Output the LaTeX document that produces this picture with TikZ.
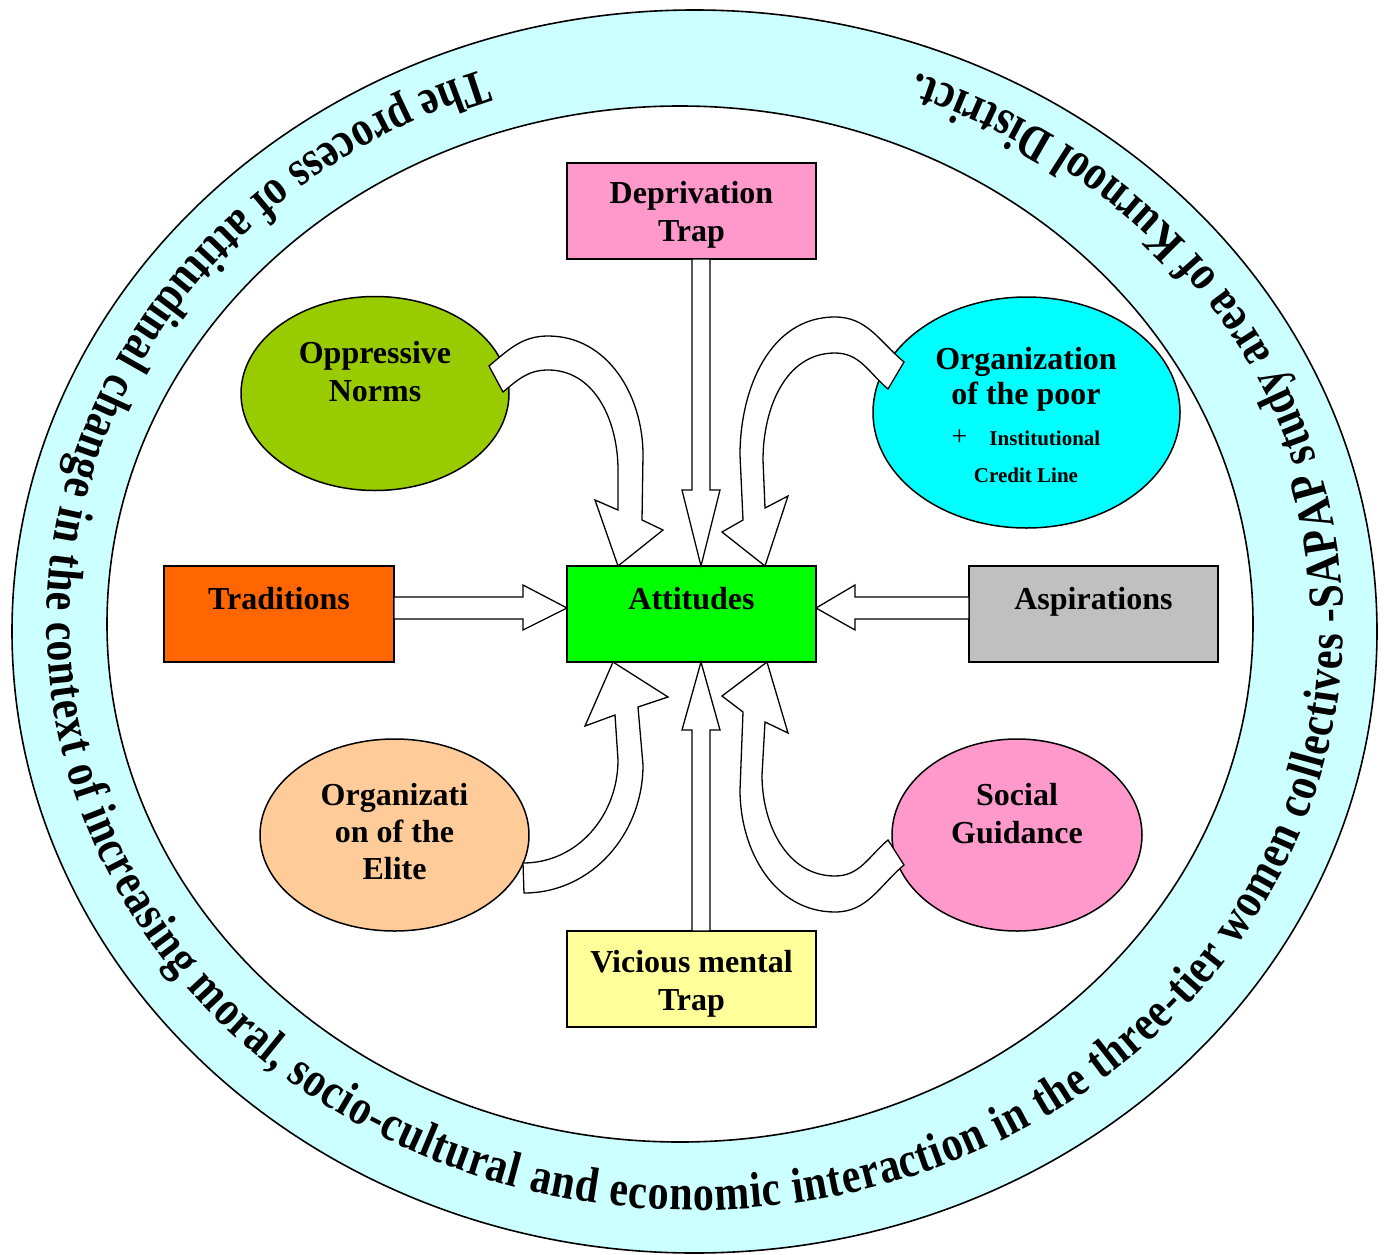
\documentclass[tikz,border=0pt]{standalone}
\usepackage{fontspec}
\setmainfont{Liberation Serif}
\newfontfamily\bandfont[FakeStretch=0.84]{Liberation Serif}
\usetikzlibrary{decorations.text,shapes.geometric,calc}

\definecolor{cband}{HTML}{CCFFFF}
\definecolor{cdep}{HTML}{FF99CC}
\definecolor{cnorm}{HTML}{99CC00}
\definecolor{cpoor}{HTML}{00FFFF}
\definecolor{ctrad}{HTML}{FF6600}
\definecolor{catt}{HTML}{00FF00}
\definecolor{casp}{HTML}{C0C0C0}
\definecolor{celite}{HTML}{FFCC99}
\definecolor{csocial}{HTML}{FF99CC}
\definecolor{cvic}{HTML}{FFFF99}

\tikzset{
  lbl/.style={font=\bfseries\fontsize{32}{38}\selectfont, align=center, inner sep=0pt},
  boxnode/.style={draw=black, line width=1.5pt, minimum width=249pt, minimum height=96pt,
    inner sep=0pt, outer sep=0pt, align=center, font=\bfseries\fontsize{32}{38}\selectfont},
  topbox/.style={text height=32pt, text depth=42pt, inner ysep=11pt},
  blob/.style={ellipse, draw=black, line width=1.5pt, inner sep=0pt, outer sep=0pt},
  blockarrow/.style={draw=black, fill=white, line width=1.3pt, line join=miter},
  ring/.style={draw=black, line width=1.6pt}
}

\begin{document}
\begin{tikzpicture}[x=1pt,y=1pt]
\useasboundingbox (0,0) rectangle (1387,-1255);

% outer band and inner field
\fill[cband] (694.5,-631.5) ellipse[x radius=682.5, y radius=621.5];
\draw[ring] (694.5,-631.5) ellipse[x radius=682.5, y radius=621.5];
\filldraw[ring, fill=white] (680,-624) ellipse[x radius=573, y radius=518];

% caption running round the band
\path[decorate, decoration={text along path, text align=fit to path,
  text={|\bandfont\bfseries\fontsize{50}{56}\selectfont|The process of attitudinal change in the context of increasing moral, socio-cultural and economic interaction in the three-tier women collectives -SAPAP study area of Kurnool District.}}]
  (695,-624) ++(109:648 and 586) arc[start angle=109, end angle=430, x radius=648, y radius=586];

% boxes
\node[boxnode, fill=cdep] (dep) at (691.5,-211) {\rule{0pt}{30pt}Deprivation\\Trap};
\node[boxnode, topbox, fill=catt] (att) at (691.5,-614) {Attitudes};
\node[boxnode, topbox, minimum width=230pt, fill=ctrad] (trad) at (279,-614) {Traditions};
\node[boxnode, topbox, fill=casp] (asp) at (1093.5,-614) {Aspirations};
\node[boxnode, fill=cvic] (vic) at (691.5,-979) {\rule{0pt}{32pt}Vicious mental\\Trap};

% ellipses
\node[blob, fill=cnorm, minimum width=268pt, minimum height=194pt] (norms) at (375,-393.5) {};
\node[blob, fill=cpoor, minimum width=307pt, minimum height=231pt] (poor) at (1026.5,-412.5) {};
\node[blob, fill=celite, minimum width=269pt, minimum height=192pt] (elite) at (394.5,-835) {};
\node[blob, fill=csocial, minimum width=250pt, minimum height=192pt] (social) at (1017,-835) {};

% ellipse labels
\node[lbl] (normsT) at (375,-372) {Oppressive\\Norms};
\node[lbl, font=\bfseries\fontsize{32}{35}\selectfont] (poorT) at (1026,-379) {Organization\\of the poor};
\node[lbl, font=\bfseries\fontsize{21}{37}\selectfont] (creditT) at (1026,-456)
  {{\mdseries\fontsize{28}{28}\selectfont+}\hspace{22pt}Institutional\\Credit Line};
\node[lbl, font=\bfseries\fontsize{32}{37}\selectfont] (eliteT) at (394.5,-832) {Organizati\\on of the\\Elite};
\node[lbl] (socialT) at (1017,-814) {Social\\Guidance};

% straight block arrows
\draw[blockarrow] let \p1=(dep.south), \p2=(att.north) in
  (\x1+0.5pt,\y1) -- (\x1+0.5pt,\y2+76pt) -- (\x1-9.5pt,\y2+76pt) -- (\x1+9.5pt,\y2)
  -- (\x1+28.5pt,\y2+76pt) -- (\x1+18.5pt,\y2+76pt) -- (\x1+18.5pt,\y1) -- cycle;
\draw[blockarrow] let \p1=(vic.north), \p2=(att.south) in
  (\x1+0.5pt,\y1) -- (\x1+0.5pt,\y2-68pt) -- (\x1-9.5pt,\y2-68pt) -- (\x1+9.5pt,\y2)
  -- (\x1+28.5pt,\y2-68pt) -- (\x1+18.5pt,\y2-68pt) -- (\x1+18.5pt,\y1) -- cycle;
\draw[blockarrow] let \p1=(trad.east), \p2=(att.west) in
  (\x1,\y1+17pt) -- (\x2-44pt,\y1+17pt) -- (\x2-44pt,\y1+29pt) -- (\x2,\y1+6pt)
  -- (\x2-44pt,\y1-16pt) -- (\x2-44pt,\y1-5pt) -- (\x1,\y1-5pt) -- cycle;
\draw[blockarrow] let \p1=(asp.west), \p2=(att.east) in
  (\x1,\y1+17pt) -- (\x2+39pt,\y1+17pt) -- (\x2+39pt,\y1+29pt) -- (\x2,\y1+6pt)
  -- (\x2+39pt,\y1-16pt) -- (\x2+39pt,\y1-5pt) -- (\x1,\y1-5pt) -- cycle;

% curved block arrows
\draw[blockarrow]
  ($(norms)+(114,27.5)$) to[out=40,in=180] ($(norms)+(173,57.5)$)
  to[out=0,in=90] ($(att.north west)+(76,111)$)
  -- ($(att.north west)+(75,46)$) -- ($(att.north west)+(96,36)$)
  -- ($(att.north west)+(51,0)$) -- ($(att.north west)+(28,66)$)
  -- ($(att.north west)+(51,56)$) -- ($(att.north west)+(51,96)$)
  to[out=90,in=0] ($(norms)+(173,23.5)$)
  to[out=180,in=40] ($(norms)+(128,1.5)$) -- cycle;

\draw[blockarrow]
  ($(poor)+(-122.5,50.5)$) to[out=140,in=0] ($(poor)+(-191.5,95.5)$)
  to[out=180,in=90] ($(att.north east)+(-76,111)$)
  -- ($(att.north east)+(-73,46)$) -- ($(att.north east)+(-94,34)$)
  -- ($(att.north east)+(-51,0)$) -- ($(att.north east)+(-28,70)$)
  -- ($(att.north east)+(-51,58)$) -- ($(att.north east)+(-53,106)$)
  to[out=90,in=180] ($(poor)+(-191.5,59.5)$)
  to[out=0,in=140] ($(poor)+(-138.5,23.5)$) -- cycle;

\draw[blockarrow]
  ($(elite)+(129.5,-58)$) to[out=0,in=-90] ($(att.south west)+(76,-103)$)
  -- ($(att.south west)+(71,-45)$) -- ($(att.south west)+(101,-35)$)
  -- ($(att.south west)+(46,0)$) -- ($(att.south west)+(18,-64)$)
  -- ($(att.south west)+(48,-53)$) -- ($(att.south west)+(51,-98)$)
  to[out=-90,in=0] ($(elite)+(128.5,-28)$) -- cycle;

\draw[blockarrow]
  ($(social)+(-113,-30)$) to[out=220,in=0] ($(social)+(-182,-77)$)
  to[out=180,in=-90] ($(att.south east)+(-76,-128)$)
  -- ($(att.south east)+(-73,-50)$) -- ($(att.south east)+(-94,-34)$)
  -- ($(att.south east)+(-49,0)$) -- ($(att.south east)+(-28,-71)$)
  -- ($(att.south east)+(-51,-60)$) -- ($(att.south east)+(-54,-113)$)
  to[out=-90,in=180] ($(social)+(-182,-41)$)
  to[out=0,in=220] ($(social)+(-129,-5)$) -- cycle;

\end{tikzpicture}
\end{document}
